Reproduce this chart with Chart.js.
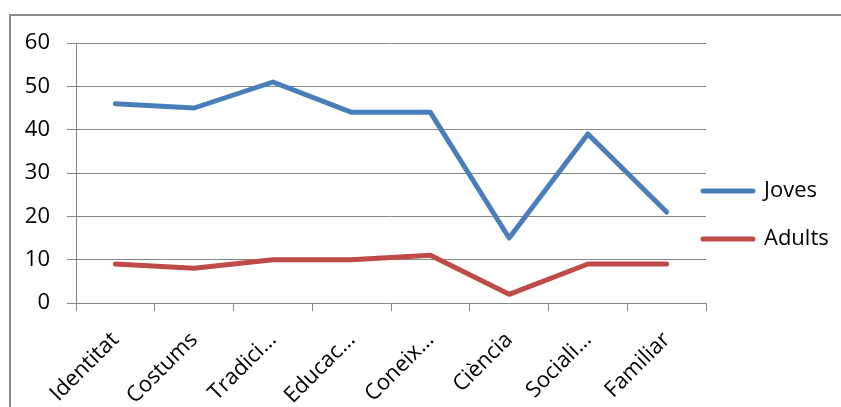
<!DOCTYPE html>
<html>
<head>
<meta charset="utf-8">
<script src="https://cdn.jsdelivr.net/npm/chart.js@4.4.1/dist/chart.umd.min.js"></script>
<style>
  html, body { margin: 0; padding: 0; background: #fff; overflow: hidden; }
  #wrap { position: relative; width: 841px; height: 407px; }
  #frame {
    position: absolute; left: 9px; top: 14px; width: 900px; height: 500px;
    border-top: 2px solid #8c8c8c; border-left: 2px solid #8c8c8c;
  }
  #chart { position: absolute; left: 0; top: 0; }
</style>
</head>
<body>
<div id="wrap">
  <div id="frame"></div>
  <canvas id="chart" width="841" height="407"></canvas>
</div>
<script>
"use strict";

var categories = ['Identitat', 'Costums', 'Tradici…', 'Educac…', 'Coneix…', 'Ciència', 'Sociali…', 'Familiar'];
var joves = [46, 45, 51, 44, 44, 15, 39, 21];
var adults = [9, 8, 10, 10, 11, 2, 9, 9];
var yTicks = [0, 10, 20, 30, 40, 50, 60];

var FONT = { family: "'Open Sans'", size: 22 };
var GRID = '#868686';

// the legend overlaps the right edge of the plot a little, so move it left
// after layout, widen its box so the labels are not clipped, and lift it a bit
var legendShift = {
    id: 'legendShift',
    afterLayout: function (chart) {
        var legend = chart.legend;
        legend.left = chart.chartArea.right - 29;
        legend.right = chart.width;
        legend.top -= 20;
    }
};

new Chart(document.getElementById('chart'), {
    type: 'line',
    data: {
        labels: categories,
        datasets: [{
            label: 'Joves',
            data: joves,
            borderColor: '#4a7ebb',
            backgroundColor: '#4a7ebb',
        }, {
            label: 'Adults',
            data: adults,
            borderColor: '#be4b48',
            backgroundColor: '#be4b48',
        }],
    },
    options: {
        responsive: false,
        animation: false,
        events: [],
        layout: { padding: { top: 43, bottom: 0, left: 0, right: 0 } },
        elements: {
            line: { borderWidth: 5, borderCapStyle: 'round', borderJoinStyle: 'round', tension: 0 },
            point: { radius: 0, hoverRadius: 0 },
        },
        plugins: {
            tooltip: { enabled: false },
            legend: {
                position: 'right',
                maxWidth: 135,
                labels: {
                    font: FONT,
                    color: '#000',
                    boxWidth: 50,
                    boxHeight: 0,
                    padding: 26,
                },
            },
        },
        scales: {
            x: {
                type: 'category',
                offset: true,
                grid: { offset: true, drawOnChartArea: false, drawTicks: true, tickLength: 8, color: GRID },
                border: { color: GRID },
                ticks: { font: FONT, color: '#000', minRotation: 45, maxRotation: 45, autoSkip: false, padding: 16 },
                afterFit: function (scale) { scale.height = 104; },
            },
            y: {
                min: 0,
                max: 60,
                afterBuildTicks: function (scale) {
                    scale.ticks = yTicks.map(function (v) { return { value: v }; });
                },
                grid: { color: GRID, tickLength: 9 },
                border: { color: GRID },
                ticks: { font: FONT, color: '#000', padding: 17 },
                afterFit: function (scale) { scale.width = 76; },
            },
        },
    },
    plugins: [legendShift],
});
</script>
</body>
</html>
